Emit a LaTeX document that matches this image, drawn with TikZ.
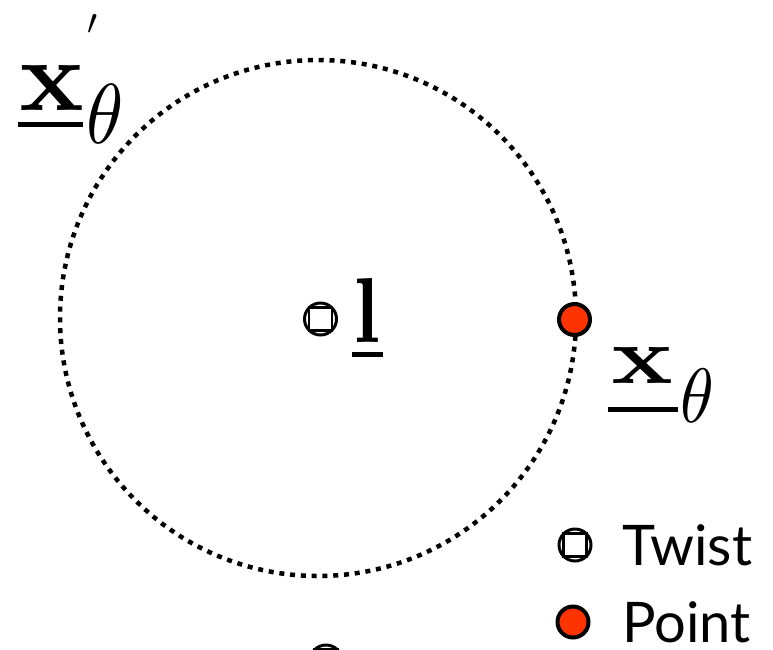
\documentclass[tikz,border=0pt]{standalone}
\usepackage{fontspec}
\newfontfamily\legendfont{Lato}
\usetikzlibrary{calc}
\definecolor{ptred}{RGB}{255,51,0}
\tikzset{
  ring/.style={draw=black, dash pattern=on 5pt off 5.8pt, line width=4.5pt},
  twistring/.style={draw=black, line width=3pt, fill=white},
  twistsq/.style={draw=black, line width=2.5pt},
  ptdot/.style={draw=black, line width=4pt, fill=ptred},
  uline/.style={line width=5pt},
  glyph/.style={inner sep=0pt, anchor=base west},
}
\newcommand{\twistsym}[1]{%
  \draw[twistring] (#1) circle[radius=16pt];
  \draw[twistsq] ($(#1)+(-11.3pt,-11.3pt)$) rectangle ($(#1)+(11.3pt,11.3pt)$);
}
\begin{document}
\begin{tikzpicture}[x=1pt,y=-1pt]
\useasboundingbox (0,0) rectangle (773,649);
\clip (0,0) rectangle (773,649);
% dotted circle
\coordinate (c) at (318,318);
\draw[ring] (c) circle[radius=258pt];
% twist at centre
\coordinate (tw) at (320.5,319);
\twistsym{tw}
\node[glyph] (lbl) at (353,342) {\bfseries\resizebox{27pt}{64pt}{l}};
\draw[uline] (352,354) -- (383,354);
% point on circle
\node[circle, ptdot, minimum size=31pt, inner sep=0pt] (pt) at (574.5,319.5) {};
% x_theta lower
\node[glyph] (xl) at (611,383) {\bfseries\resizebox{62pt}{36pt}{x}};
\node[glyph] (tl) at (680,422) {\fontsize{10}{10}\selectfont\scalebox{6.8}[7.7]{$\theta$}};
\draw[uline] (608,409.5) -- (678,409.5);
% x'_theta upper
\node[glyph] (xu) at (19,110) {\bfseries\resizebox{65pt}{45pt}{x}};
\node[glyph] (tu) at (86,143) {\fontsize{10}{10}\selectfont\scalebox{7.5}[8.5]{$\theta$}};
\node[inner sep=0pt] (pr) at (92,24) {\fontsize{10}{10}\selectfont\scalebox{3.6}{$\prime$}};
\draw[uline] (18,124.5) -- (83,124.5);
% partial twist at bottom
\coordinate (tb) at (326,661);
\twistsym{tb}
% legend
\coordinate (lt) at (575,545);
\twistsym{lt}
\node[circle, ptdot, minimum size=31pt, inner sep=0pt] (lp) at (573,622) {};
\node[glyph] (ltxt) at (622,565) {\legendfont\fontsize{56}{56}\selectfont Twist};
\node[glyph] (lptxt) at (622,642) {\legendfont\fontsize{56}{56}\selectfont Point};
\end{tikzpicture}
\end{document}
